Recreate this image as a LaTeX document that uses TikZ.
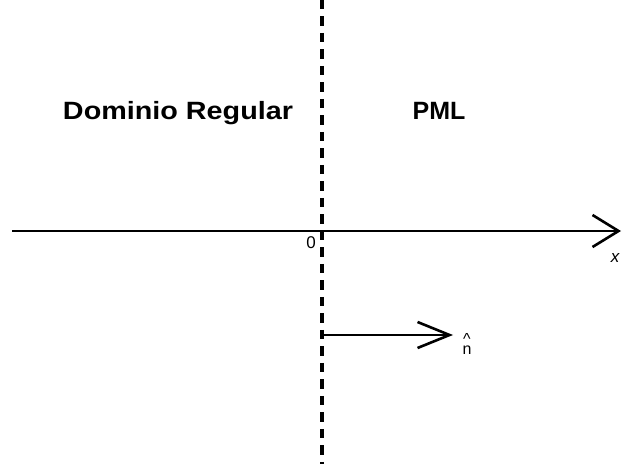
\documentclass[tikz,border=0pt]{standalone}
\usepackage{fontspec}
\setmainfont{Liberation Sans}
\usetikzlibrary{arrows.meta}
\begin{document}
\begin{tikzpicture}[x=1pt,y=1pt]
\definecolor{fillColor}{RGB}{255,255,255}
\definecolor{drawColor}{RGB}{0,0,0}
\tikzset{
  axisline/.style={draw=drawColor,line width=2.6pt,-{Straight Barb[length=26pt,width=32pt]}},
  interface/.style={draw=drawColor,line width=4pt,dash pattern=on 9.5pt off 7pt},
  normalvec/.style={draw=drawColor,line width=2.6pt,-{Straight Barb[length=32pt,width=26pt]}},
  region/.style={anchor=base,inner sep=0pt,outer sep=0pt,font=\bfseries\fontsize{25}{30}\selectfont},
  ticklabel/.style={anchor=base,inner sep=0pt,outer sep=0pt,font=\fontsize{17}{20}\selectfont}
}
\path[use as bounding box,fill=fillColor] (0,0) rectangle (622,464);

% x axis
\coordinate (xstart) at ( 12.00,233.00);
\coordinate (xend) at (621.00,233.00);
\path[axisline] (xstart) -- (xend);

% interface
\coordinate (itop) at (322.00,464.00);
\coordinate (ibot) at (322.00,  0.00);
\path[interface] (itop) -- (ibot);

% normal
\coordinate (nstart) at (322.00,129.00);
\coordinate (nend) at (453.00,129.00);
\path[normalvec] (nstart) -- (nend);

\node[region,xscale=1.15] (dom) at (178.00,344.00) {Dominio Regular};
\node[region] (pml) at (439.00,344.00) {PML};

\node[ticklabel] (zero) at (311.00,215.00) {0};
\node[ticklabel,font=\itshape\fontsize{17}{20}\selectfont] (xlab) at (615.00,201.00) {x};
\node[ticklabel,anchor=center,align=center,font=\fontsize{16}{5}\selectfont] (nlab) at (467.00,120.00) {\textasciicircum\\n};
\end{tikzpicture}
\end{document}
